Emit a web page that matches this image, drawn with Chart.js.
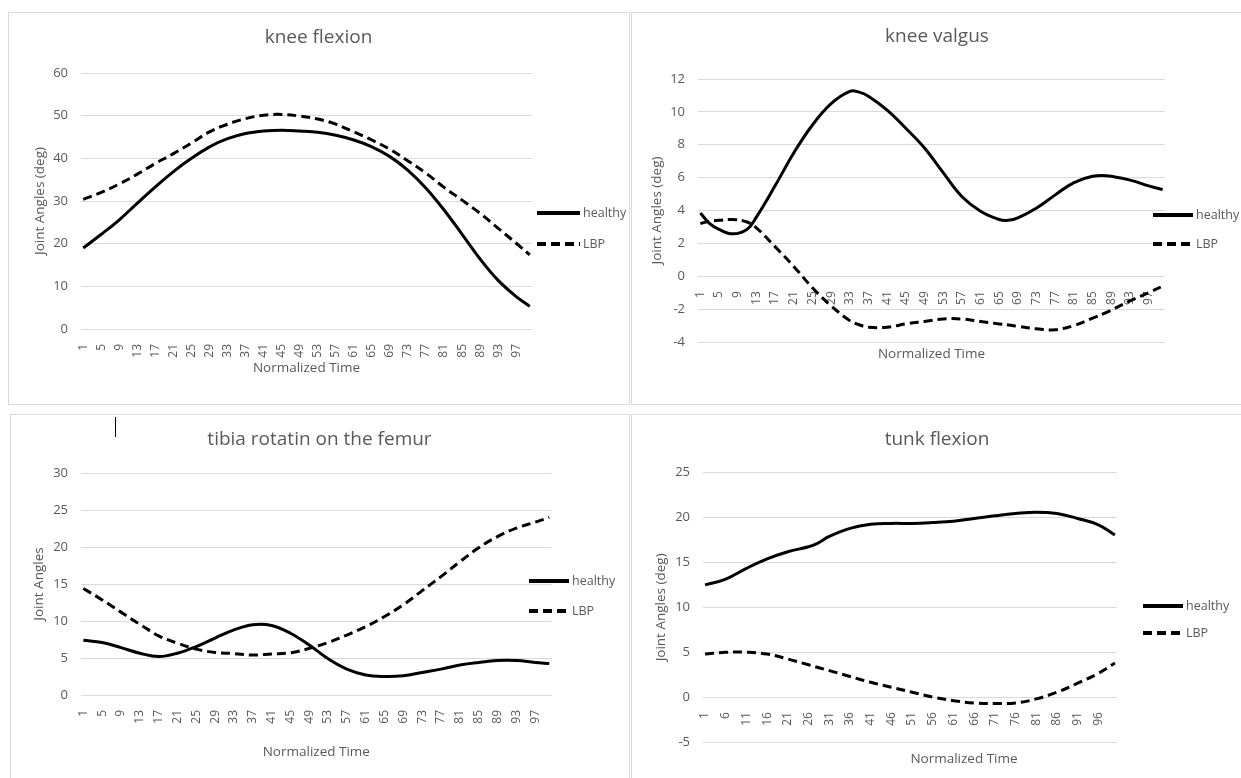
<!DOCTYPE html>
<html>
<head>
<meta charset="utf-8">
<script src="https://cdn.jsdelivr.net/npm/chart.js@4"></script>
<style>
  body { margin: 0; background: #fff; width: 1241px; height: 778px; overflow: hidden; position: relative; }
  canvas { position: absolute; }
  .box { position: absolute; box-sizing: border-box; border: 1px solid #d9d9d9; pointer-events: none; }
  .cursor { position: absolute; left: 115px; top: 417px; width: 1px; height: 20px; background: #000; }
</style>
</head>
<body>
<canvas id="c1" width="621" height="392" style="left:8px;top:12px"></canvas>
<canvas id="c2" width="612" height="392" style="left:631px;top:12px"></canvas>
<canvas id="c3" width="619" height="366" style="left:10px;top:414px"></canvas>
<canvas id="c4" width="612" height="366" style="left:631px;top:414px"></canvas>
<div class="box" style="left:8px;top:12px;width:622px;height:393px"></div>
<div class="box" style="left:631px;top:12px;width:620px;height:393px"></div>
<div class="box" style="left:10px;top:414px;width:620px;height:380px"></div>
<div class="box" style="left:631px;top:414px;width:620px;height:380px"></div>
<div class="cursor"></div>
<script>
// normalized time frames 1..100
var frames = [];
for (var i = 1; i <= 100; i++) frames.push(String(i));

// knee flexion
var kneeFlexX = [1, 5, 9, 13, 17, 21, 25, 29, 33, 37, 41, 45, 49, 53, 57, 61, 65, 69, 73, 77, 81, 85, 89, 93, 97, 100];
var kneeFlexHealthy = [19, 22.2, 25.6, 29.5, 33.3, 36.9, 40, 42.7, 44.6, 45.8, 46.4, 46.6, 46.4, 46.1, 45.4, 44.3, 42.7, 40.4, 37.2, 33, 27.9, 22.2, 16.4, 11.4, 7.6, 5.3];
var kneeFlexLBP = [30.4, 32, 34, 36.3, 38.8, 41.1, 43.6, 46.2, 48, 49.3, 50.1, 50.3, 49.9, 49.2, 48, 46.2, 44.3, 42.1, 39.4, 36.5, 33.2, 30.2, 27.1, 23.6, 20.1, 17.4];

// knee valgus
var valgusX = [1, 3, 5, 8, 11, 13, 17, 21, 25, 29, 33, 35, 37, 41, 45, 49, 53, 57, 61, 65, 67, 69, 73, 77, 81, 85, 88, 93, 97, 100];
var valgusHealthy = [3.85, 3.2, 2.85, 2.58, 2.85, 3.6, 5.5, 7.5, 9.2, 10.5, 11.25, 11.2, 10.95, 10.1, 9.0, 7.8, 6.3, 4.85, 3.95, 3.45, 3.4, 3.55, 4.15, 4.95, 5.7, 6.08, 6.12, 5.85, 5.5, 5.27];
var valgusLBP = [3.2, 3.35, 3.4, 3.45, 3.3, 2.95, 1.8, 0.6, -0.7, -1.8, -2.7, -2.95, -3.1, -3.1, -2.9, -2.75, -2.6, -2.6, -2.75, -2.9, -2.97, -3.05, -3.2, -3.25, -3.0, -2.55, -2.2, -1.5, -1.0, -0.6];

// tibia rotation on the femur
var tibiaX = [1, 5, 9, 13, 17, 21, 25, 29, 33, 37, 41, 45, 49, 53, 57, 61, 65, 69, 73, 77, 81, 85, 89, 93, 97, 100];
var tibiaHealthy = [7.4, 7.1, 6.4, 5.65, 5.2, 5.65, 6.55, 7.7, 8.8, 9.5, 9.4, 8.35, 6.75, 4.9, 3.5, 2.7, 2.5, 2.6, 3.05, 3.5, 4.05, 4.4, 4.65, 4.65, 4.4, 4.25];
var tibiaLBP = [14.4, 12.85, 11.2, 9.55, 8.0, 7.0, 6.2, 5.75, 5.6, 5.4, 5.55, 5.7, 6.3, 7.1, 8.1, 9.25, 10.6, 12.2, 14.1, 16, 18, 19.9, 21.4, 22.55, 23.35, 24];

// trunk flexion
var trunkHealthyX = [1, 6, 11, 16, 21, 26, 28, 31, 36, 41, 46, 51, 56, 61, 66, 71, 76, 81, 86, 91, 96, 100];
var trunkHealthy = [12.5, 13.15, 14.35, 15.4, 16.2, 16.75, 17.1, 17.9, 18.8, 19.25, 19.35, 19.35, 19.45, 19.6, 19.9, 20.2, 20.45, 20.6, 20.45, 19.9, 19.2, 18.05];
var trunkLBPX = [1, 6, 11, 16, 21, 26, 31, 36, 41, 46, 51, 56, 61, 66, 71, 76, 81, 86, 91, 96, 100];
var trunkLBP = [4.8, 5.0, 5.0, 4.8, 4.25, 3.6, 2.95, 2.3, 1.65, 1.1, 0.55, 0, -0.4, -0.65, -0.7, -0.65, -0.2, 0.55, 1.55, 2.65, 3.8];

Chart.defaults.font.family = '"Open Sans", sans-serif';
Chart.defaults.color = '#595959';

function pts(xs, ys) {
    return xs.map(function (x, k) { return { x: String(x), y: ys[k] }; });
}

// legend drawn as line samples on the right, like the Excel original
var lineLegend = {
    id: 'lineLegend',
    afterDraw: function (chart, args, opts) {
        var ctx = chart.ctx;
        chart.data.datasets.forEach(function (ds, k) {
            var y = opts.y[k];
            ctx.save();
            ctx.strokeStyle = ds.borderColor;
            ctx.lineWidth = 4;
            ctx.setLineDash(ds.borderDash || []);
            ctx.beginPath();
            ctx.moveTo(opts.x0, y);
            ctx.lineTo(opts.x1, y);
            ctx.stroke();
            ctx.setLineDash([]);
            ctx.fillStyle = '#595959';
            ctx.font = '12.5px "Open Sans"';
            ctx.textBaseline = 'middle';
            ctx.fillText(ds.label, opts.x1 + 3, y);
            ctx.restore();
        });
    }
};

// moves the bottom axis title sideways
var shiftTitle = {
    id: 'shiftTitle',
    afterLayout: function (chart, args, opts) {
        var s = chart.scales.x2;
        if (s && opts.dx) { s.left += opts.dx; s.right += opts.dx; }
    }
};

function makeChart(id, c) {
    return new Chart(document.getElementById(id), {
        type: 'line',
        data: {
            labels: frames,
            datasets: [
                { label: 'healthy', data: c.healthy, borderColor: '#000', borderWidth: 3, borderDash: [] },
                { label: 'LBP', data: c.lbp, borderColor: '#000', borderWidth: 3, borderDash: [9, 5] }
            ]
        },
        options: {
            responsive: false,
            animation: false,
            layout: { padding: 0 },
            elements: {
                point: { radius: 0 },
                line: { tension: 0.4, borderCapStyle: 'butt', fill: false }
            },
            plugins: {
                legend: { display: false },
                tooltip: { enabled: false },
                title: {
                    display: true,
                    text: c.title,
                    color: '#595959',
                    font: { size: 19, weight: 'normal', lineHeight: 1.2 },
                    padding: c.titlePad
                },
                lineLegend: c.legend,
                shiftTitle: { dx: c.dx || 0 }
            },
            scales: {
                x: {
                    type: 'category',
                    position: { y: 0 },
                    offset: true,
                    grid: { display: false },
                    border: { display: false },
                    ticks: {
                        autoSkip: false,
                        minRotation: 90,
                        maxRotation: 90,
                        padding: 7,
                        font: { size: 12 },
                        callback: function (v, i) { return i % c.tickStep === 0 ? this.getLabelForValue(v) : ''; }
                    }
                },
                x2: {
                    type: 'category',
                    position: 'bottom',
                    grid: { display: false },
                    border: { display: false },
                    ticks: { display: false },
                    title: {
                        display: true,
                        text: 'Normalized Time',
                        font: { size: 13.5, lineHeight: 1.2 },
                        padding: { top: 0, bottom: c.xTitlePad }
                    },
                    afterFit: function (s) { s.height = c.xBoxH; }
                },
                y: {
                    min: c.min,
                    max: c.max,
                    grid: { color: '#d9d9d9', drawTicks: false },
                    border: { display: false },
                    ticks: { stepSize: c.step, padding: 13, font: { size: 13 } },
                    title: {
                        display: true,
                        text: c.yTitle,
                        font: { size: 13.5, lineHeight: 1.2 },
                        padding: { top: c.yTitlePad, bottom: 0 }
                    },
                    afterFit: function (s) { s.width = c.yWidth; }
                },
                yR: {
                    type: 'linear',
                    position: 'right',
                    grid: { display: false },
                    border: { display: false },
                    ticks: { display: false },
                    afterFit: function (s) { s.width = c.rightW; }
                }
            }
        },
        plugins: [lineLegend, shiftTitle]
    });
}

makeChart('c1', {
    title: 'knee flexion', yTitle: 'Joint Angles (deg)', min: 0, max: 60, step: 10, tickStep: 4,
    healthy: pts(kneeFlexX, kneeFlexHealthy), lbp: pts(kneeFlexX, kneeFlexLBP),
    titlePad: { top: 14.6, bottom: 23.6 }, yWidth: 73, rightW: 97, xBoxH: 75, xTitlePad: 27.9, yTitlePad: 23.9,
    legend: { x0: 529, x1: 572, y: [201, 232] }
});

makeChart('c2', {
    title: 'knee valgus', yTitle: 'Joint Angles (deg)', min: -4, max: 12, step: 2, tickStep: 4,
    healthy: pts(valgusX, valgusHealthy), lbp: pts(valgusX, valgusLBP),
    titlePad: { top: 13.6, bottom: 30.6 }, yWidth: 67, rightW: 78, xBoxH: 62, xTitlePad: 41.9, yTitlePad: 18.5,
    legend: { x0: 522, x1: 562, y: [203, 232] }
});

makeChart('c3', {
    title: 'tibia rotatin on the femur', yTitle: 'Joint Angles', min: 0, max: 30, step: 5, tickStep: 4,
    healthy: pts(tibiaX, tibiaHealthy), lbp: pts(tibiaX, tibiaLBP),
    titlePad: { top: 14.6, bottom: 21.6 }, yWidth: 71, rightW: 77.4, xBoxH: 85, xTitlePad: 19.9, yTitlePad: 21.4,
    legend: { x0: 519, x1: 559, y: [167, 197] }
});

makeChart('c4', {
    title: 'tunk flexion', yTitle: 'Joint Angles (deg)', min: -5, max: 25, step: 5, tickStep: 5,
    healthy: pts(trunkHealthyX, trunkHealthy), lbp: pts(trunkLBPX, trunkLBP),
    titlePad: { top: 14.6, bottom: 21.3 }, yWidth: 72, rightW: 126, xBoxH: 38, xTitlePad: 12.9, yTitlePad: 22.4,
    legend: { x0: 512, x1: 552, y: [192, 219] }, dx: 54
});
</script>
</body>
</html>
